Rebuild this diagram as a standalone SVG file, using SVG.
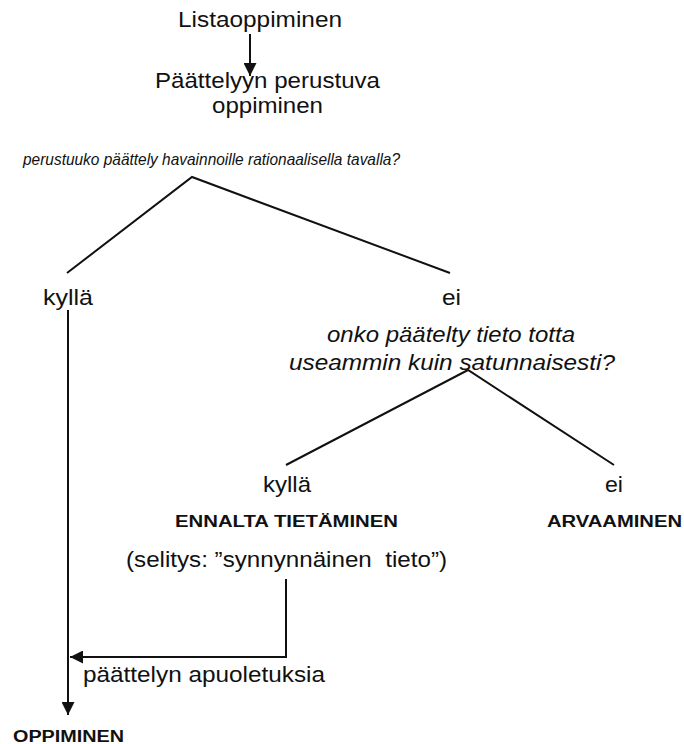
<svg xmlns="http://www.w3.org/2000/svg" width="684" height="744" viewBox="0 0 684 744">
<style>
text{font-family:"Liberation Sans",Arial,sans-serif;fill:#111;white-space:pre}
.n{font-size:22px}
.i{font-style:italic}
.q{font-size:17px;font-style:italic}
.b{font-size:16px;font-weight:bold}
.ln{stroke:#111;stroke-width:2;fill:none}
</style>
<defs>
<marker id="ah" viewBox="0 0 10 10" refX="10" refY="5" markerWidth="13" markerHeight="13" markerUnits="userSpaceOnUse" orient="auto">
<path d="M0,0 L10,5 L0,10 Z" fill="#111"/>
</marker>
</defs>
<g id="connectors">
<line class="ln" x1="250" y1="34" x2="250" y2="76" marker-end="url(#ah)"/>
<polyline class="ln" points="67,273 192,177 450,273"/>
<polyline class="ln" points="286,465 468,370 614,465"/>
<line class="ln" x1="68" y1="310" x2="68" y2="715" marker-end="url(#ah)"/>
<polyline class="ln" points="286,579 286,657 70,657" marker-end="url(#ah)"/>
</g>
<g id="n-lista"><text class="n" x="178" y="27" textLength="164" lengthAdjust="spacingAndGlyphs">Listaoppiminen</text></g>
<g id="n-paattely">
<text class="n" x="155" y="88" textLength="225" lengthAdjust="spacingAndGlyphs">Päättelyyn perustuva</text>
<text class="n" x="212" y="113" textLength="111" lengthAdjust="spacingAndGlyphs">oppiminen</text>
</g>
<g id="q1"><text class="q" x="23" y="165" textLength="377" lengthAdjust="spacingAndGlyphs">perustuuko päättely havainnoille rationaalisella tavalla?</text></g>
<g id="n-kylla1"><text class="n" x="43" y="305" textLength="50" lengthAdjust="spacingAndGlyphs">kyllä</text></g>
<g id="n-ei1"><text class="n" x="442" y="305" textLength="19" lengthAdjust="spacingAndGlyphs">ei</text></g>
<g id="q2">
<text class="n i" x="327" y="342" textLength="248" lengthAdjust="spacingAndGlyphs">onko päätelty tieto totta</text>
<text class="n i" x="289" y="370" textLength="326" lengthAdjust="spacingAndGlyphs">useammin kuin satunnaisesti?</text>
</g>
<g id="n-kylla2">
<text class="n" x="263" y="492" textLength="48" lengthAdjust="spacingAndGlyphs">kyllä</text>
<text class="b" x="175" y="527" textLength="223" lengthAdjust="spacingAndGlyphs">ENNALTA TIETÄMINEN</text>
<text class="n" x="126" y="567" textLength="321" lengthAdjust="spacingAndGlyphs">(selitys: ”synnynnäinen  tieto”)</text>
</g>
<g id="n-ei2">
<text class="n" x="605" y="492" textLength="18" lengthAdjust="spacingAndGlyphs">ei</text>
<text class="b" x="547" y="527" textLength="135" lengthAdjust="spacingAndGlyphs">ARVAAMINEN</text>
</g>
<g id="n-apu"><text class="n" x="83" y="682" textLength="242" lengthAdjust="spacingAndGlyphs">päättelyn apuoletuksia</text></g>
<g id="n-oppiminen"><text class="b" x="13" y="742" textLength="111" lengthAdjust="spacingAndGlyphs">OPPIMINEN</text></g>
</svg>
